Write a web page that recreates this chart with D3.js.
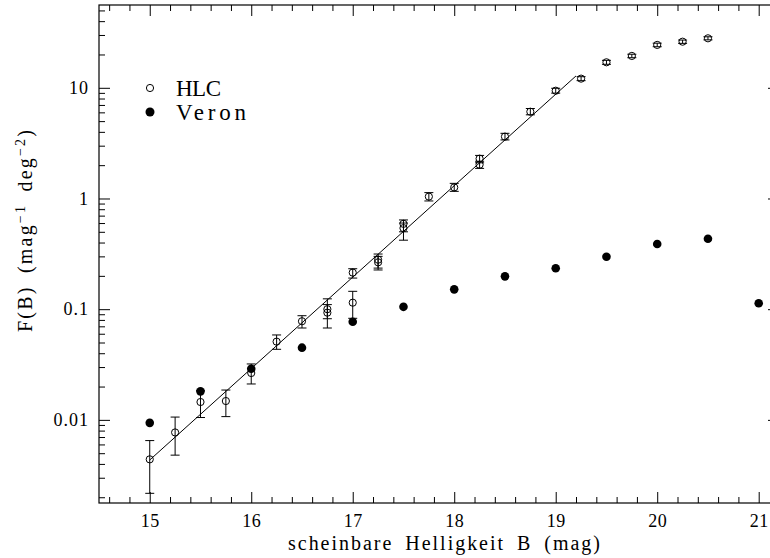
<!DOCTYPE html>
<html><head><meta charset="utf-8">
<script src="https://cdn.jsdelivr.net/npm/d3@7"></script>
<style>body{margin:0;background:#fff} svg{display:block}</style>
</head><body>
<svg id="c" width="770" height="558"></svg>
<script>
// HLC (open circles, with error bars)
const hlcMag = [15, 15.25, 15.5, 15.75, 16, 16.25, 16.5, 16.75, 16.75, 17, 17, 17.25, 17.25, 17.5, 17.5, 17.75, 18, 18.25, 18.25, 18.5, 18.75, 19, 19.25, 19.5, 19.75, 20, 20.25, 20.5];
const hlcF   = [0.0044, 0.0077, 0.0145, 0.0148, 0.0265, 0.0509, 0.0778, 0.100, 0.093, 0.1145, 0.214, 0.280, 0.265, 0.590, 0.540, 1.04, 1.26, 2.29, 2.02, 3.62, 6.08, 9.41, 12.1, 17.0, 19.4, 24.4, 26.1, 28.0];
const hlcLo  = [0.00217, 0.0048, 0.0105, 0.0107, 0.0211, 0.0434, 0.0676, 0.082, 0.0676, 0.0827, 0.191, 0.235, 0.226, 0.50, 0.42, 0.95, 1.16, 2.10, 1.87, 3.38, 5.70, 8.95, 11.6, 16.3, 18.7, 23.5, 25.2, 27.1];
const hlcHi  = [0.0065, 0.0106, 0.0185, 0.0186, 0.0320, 0.0585, 0.0873, 0.124, 0.110, 0.145, 0.232, 0.315, 0.300, 0.640, 0.600, 1.13, 1.37, 2.45, 2.17, 3.88, 6.50, 9.90, 12.6, 17.7, 20.1, 25.3, 27.0, 28.9];
// Veron (filled circles)
const veronMag = [15, 15.5, 16, 16.5, 17, 17.5, 18, 18.5, 19, 19.5, 20, 20.5, 21];
const veronF   = [0.0094, 0.0181, 0.029, 0.0449, 0.077, 0.105, 0.151, 0.198, 0.234, 0.298, 0.388, 0.433, 0.113];
// fitted power law line endpoints
const fitMag = [15, 19.2];
const fitF   = [0.00434, 12.8];
// ticks
const xMajor = [15, 16, 17, 18, 19, 20, 21];
const yMajor = [0.01, 0.1, 1, 10];
const yMajorLabels = ["0.01", "0.1", "1", "10"];
const legendLabels = ["HLC", "Veron"];

const svg = d3.select("#c");
const L = 99, R = 779, T = 5, B = 503;
const x = d3.scaleLinear().domain([14.5, 21.2]).range([L, R]);
const y = d3.scaleLog().domain([Math.pow(10, -2.751), Math.pow(10, 1.748)]).range([B, T]);

const font = "'Liberation Serif', 'DejaVu Serif', serif";
const g = svg.append("g");

// minor ticks
const xMinor = d3.range(14.6, 21.2, 0.2).map(v => +v.toFixed(1)).filter(v => Math.abs(v - Math.round(v)) > 1e-6);
const yMinor = [];
[-3, -2, -1, 0, 1].forEach(e => { for (let k = 2; k <= 9; k++) { const v = k * Math.pow(10, e); if (v >= y.domain()[0] && v <= y.domain()[1]) yMinor.push(v); } });

function ax(gen, tr, vals, size, labels) {
  const a = gen.tickValues(vals).tickSize(size).tickPadding(12);
  if (labels) a.tickFormat((d, i) => labels[i]); else a.tickFormat("");
  const s = g.append("g").attr("transform", tr).call(a);
  s.select(".domain").remove();
  s.selectAll("line").attr("stroke", "#000").attr("stroke-width", 1);
  return s;
}
const bx = ax(d3.axisBottom(x), `translate(0,${B})`, xMajor, -11, xMajor.map(String));
ax(d3.axisBottom(x), `translate(0,${B})`, xMinor, -6, null);
ax(d3.axisTop(x), `translate(0,${T})`, xMajor, -11, null);
ax(d3.axisTop(x), `translate(0,${T})`, xMinor, -6, null);
const ly = ax(d3.axisLeft(y), `translate(${L},0)`, yMajor, -11, yMajorLabels);
ax(d3.axisLeft(y), `translate(${L},0)`, yMinor, -6, null);
ax(d3.axisRight(y), `translate(${R},0)`, yMajor, -11, null);
ax(d3.axisRight(y), `translate(${R},0)`, yMinor, -6, null);

bx.selectAll("text").attr("font-family", font).attr("font-size", 18).attr("fill", "#000")
  .attr("y", 24).attr("dy", 0).attr("letter-spacing", 0.5);
ly.selectAll("text").attr("font-family", font).attr("font-size", 18).attr("fill", "#000").attr("x", -10).attr("letter-spacing", 1);

// frame
g.append("rect").attr("x", L).attr("y", T).attr("width", R - L).attr("height", B - T)
  .attr("fill", "none").attr("stroke", "#000").attr("stroke-width", 1.2);

// fit line
g.append("line").attr("x1", x(fitMag[0])).attr("y1", y(fitF[0])).attr("x2", x(fitMag[1])).attr("y2", y(fitF[1]))
  .attr("stroke", "#000").attr("stroke-width", 1);

// error bars
const cap = 4.5;
const eb = g.append("g").attr("stroke", "#000").attr("stroke-width", 1);
hlcMag.forEach((m, i) => {
  const cx = x(m);
  eb.append("line").attr("x1", cx).attr("x2", cx).attr("y1", y(hlcLo[i])).attr("y2", y(hlcHi[i]));
  eb.append("line").attr("x1", cx - cap).attr("x2", cx + cap).attr("y1", y(hlcLo[i])).attr("y2", y(hlcLo[i]));
  eb.append("line").attr("x1", cx - cap).attr("x2", cx + cap).attr("y1", y(hlcHi[i])).attr("y2", y(hlcHi[i]));
});
// HLC open circles
g.append("g").selectAll("circle").data(hlcMag).join("circle")
  .attr("cx", d => x(d)).attr("cy", (d, i) => y(hlcF[i])).attr("r", 3.6)
  .attr("fill", "none").attr("stroke", "#000").attr("stroke-width", 1);
// Veron filled
g.append("g").selectAll("circle").data(veronMag).join("circle")
  .attr("cx", d => x(d)).attr("cy", (d, i) => y(veronF[i])).attr("r", 4.3)
  .attr("fill", "#000");

// legend
const lg = g.append("g");
lg.append("circle").attr("cx", 150).attr("cy", 88).attr("r", 3.6).attr("fill", "none").attr("stroke", "#000").attr("stroke-width", 1);
lg.append("circle").attr("cx", 150).attr("cy", 112).attr("r", 4.5).attr("fill", "#000");
const legW = [45, 70];
lg.selectAll("text").data(legendLabels).join("text")
  .attr("x", 176).attr("y", (d, i) => 88 + i * 24).attr("dy", "0.35em")
  .attr("font-family", font).attr("font-size", 23)
  .attr("textLength", (d, i) => legW[i]).attr("lengthAdjust", "spacing").text(d => d);

// axis titles
svg.append("text").attr("x", 444).attr("y", 550).attr("text-anchor", "middle")
  .attr("font-family", font).attr("font-size", 20).attr("word-spacing", 5)
  .attr("textLength", 312).attr("lengthAdjust", "spacing")
  .text("scheinbare Helligkeit B (mag)");

const yt = svg.append("text").attr("transform", "translate(32,231) rotate(-90)").attr("text-anchor", "middle")
  .attr("font-family", font).attr("font-size", 20).attr("word-spacing", 5)
  .attr("textLength", 202).attr("lengthAdjust", "spacing");
yt.append("tspan").text("F(B) (mag");
yt.append("tspan").attr("baseline-shift", "super").attr("font-size", 14).text("−1");
yt.append("tspan").text(" deg");
yt.append("tspan").attr("baseline-shift", "super").attr("font-size", 14).text("−2");
yt.append("tspan").text(")");
</script>
</body></html>
